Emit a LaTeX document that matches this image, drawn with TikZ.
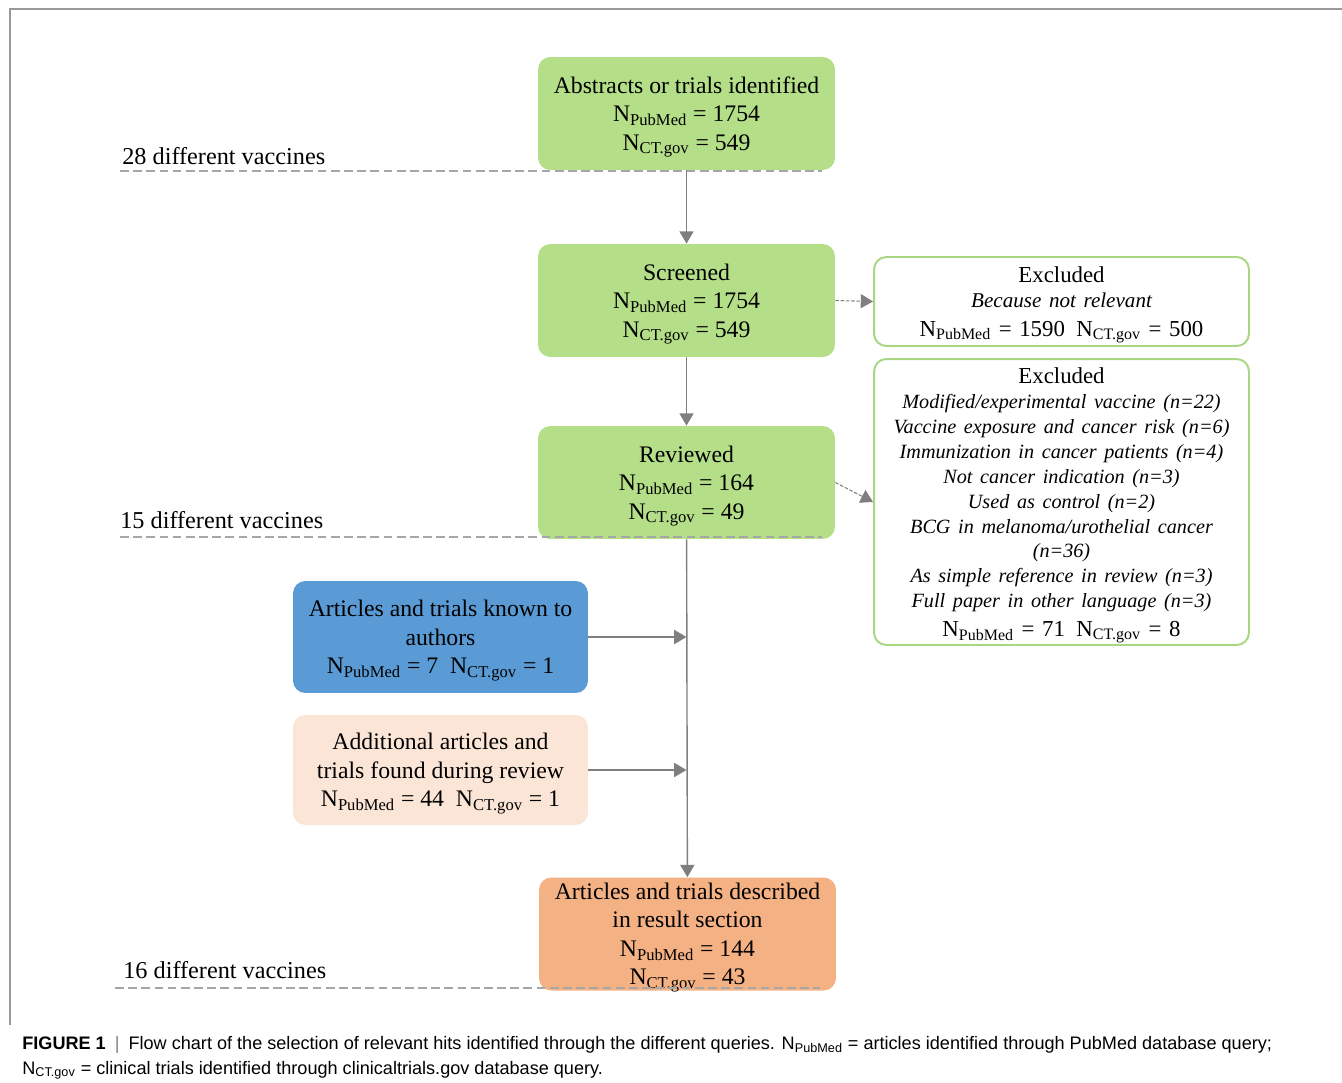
\documentclass[tikz,border=0pt]{standalone}
\usepackage{fontspec}
\setmainfont{Liberation Serif}
\newfontfamily\capfont{Liberation Sans}
\usepackage{xcolor}
\usetikzlibrary{arrows.meta}

\definecolor{boxgreen}{RGB}{180,222,135}
\definecolor{boxblue}{RGB}{91,155,213}
\definecolor{boxpeach}{RGB}{251,229,214}
\definecolor{boxorange}{RGB}{244,177,131}
\definecolor{exclgreen}{RGB}{169,214,130}
\definecolor{arrgray}{RGB}{127,127,127}
\definecolor{dashgray}{RGB}{166,166,166}

\newcommand{\npub}{N\smash{\textsubscript{PubMed}}}
\newcommand{\nct}{N\smash{\textsubscript{CT.gov}}}

\begin{document}
\begin{tikzpicture}[x=0.02cm, y=-0.02cm,
    stage/.style={rectangle, rounded corners=7pt, align=center, inner sep=2pt,
        minimum width=5.94cm, minimum height=2.26cm,
        font=\fontsize{13.5}{16.2}\selectfont},
    excl/.style={rectangle, rounded corners=7pt, align=center, inner sep=2pt,
        draw=exclgreen, line width=1.1pt, fill=white, minimum width=7.5cm,
        text width=7.3cm, font=\fontsize{13}{16.2}\selectfont},
    arr/.style={draw=arrgray, line width=0.8pt,
        -{Triangle[length=7pt, width=8pt]}},
    darr/.style={arr, dashed, dash pattern=on 2pt off 1pt, line width=0.6pt},
    sep/.style={draw=dashgray, line width=0.6pt, dash pattern=on 5pt off 2.5pt},
    vlabel/.style={anchor=south west, inner sep=0pt,
        font=\fontsize{13.8}{16}\selectfont}]

    \useasboundingbox (0,0) rectangle (1342,1082);

    % frame
    \draw[gray!80, line width=0.6pt] (10,1025) -- (10,9) -- (1342,9);

    % main stages
    \node[stage, fill=boxgreen] (ident) at (686.5,113.5)
        {Abstracts or trials identified\\ \npub{} = 1754\\ \nct{} = 549};
    \node[stage, fill=boxgreen] (screen) at (686.5,300.5)
        {Screened\\ \npub{} = 1754\\ \nct{} = 549};
    \node[stage, fill=boxgreen] (review) at (686.5,482.5)
        {Reviewed\\ \npub{} = 164\\ \nct{} = 49};
    \node[stage, fill=boxorange] (result) at (687.5,934)
        {Articles and trials described\\ in result section\\ \npub{} = 144\\ \nct{} = 43};

    % extra sources
    \node[stage, fill=boxblue, minimum width=5.9cm, minimum height=2.24cm] (known) at (440.5,637)
        {Articles and trials known to\\ authors\\ \npub{} = 7\enspace \nct{} = 1};
    \node[stage, fill=boxpeach, minimum width=5.9cm, minimum height=2.2cm] (extra) at (440.5,770)
        {Additional articles and\\ trials found during review\\ \npub{} = 44\enspace \nct{} = 1};

    % exclusions
    \node[excl, minimum height=1.78cm] (excla) at (1061.5,301.5)
        {Excluded\par
         {\fontsize{12}{14.2}\selectfont\itshape Because not relevant\par}
         \npub{} = 1590\enspace \nct{} = 500};
    \node[excl, minimum height=5.72cm] (exclb) at (1061.5,502)
        {Excluded\par
         {\fontsize{11.5}{14.2}\selectfont\itshape
         Modified/experimental vaccine (n=22)\\
         Vaccine exposure and cancer risk (n=6)\\
         Immunization in cancer patients (n=4)\\
         Not cancer indication (n=3)\\
         Used as control (n=2)\\
         BCG in melanoma/urothelial cancer\\
         (n=36)\\
         As simple reference in review (n=3)\\
         Full paper in other language (n=3)\par}
         \npub{} = 71\enspace \nct{} = 8};

    % vaccine levels
    \draw[sep] (120,171) -- (822,171);
    \draw[sep] (120,537) -- (822,537);
    \draw[sep] (115,988) -- (820,988);
    \node[vlabel] (vacA) at (122,165) {28 different vaccines};
    \node[vlabel] (vacB) at (120,529) {15 different vaccines};
    \node[vlabel] (vacC) at (123,979) {16 different vaccines};

    % flow
    \draw[arr] (ident) -- (screen);
    \draw[arr] (screen) -- (review);
    \draw[arr] (review) -- (result);
    \draw[arr] (known.east) -- (known.east -| review.south);
    \draw[arr] (extra.east) -- (extra.east -| review.south);
    \draw[darr] (screen.east) -- (excla.west);
    \draw[darr] (review.east) -- (exclb.west);

    % caption
    \node[anchor=base west, inner sep=0pt, font=\capfont\fontsize{10.3}{12}\selectfont] (capA) at (22,1049)
        {\textbf{FIGURE 1}\enspace\textcolor{gray}{|}\enspace Flow chart of the selection of relevant hits identified through the different queries. \npub{} = articles identified through PubMed database query;};
    \node[anchor=base west, inner sep=0pt, font=\capfont\fontsize{10.3}{12}\selectfont] (capB) at (22,1074)
        {\nct{} = clinical trials identified through clinicaltrials.gov database query.};

\end{tikzpicture}
\end{document}
